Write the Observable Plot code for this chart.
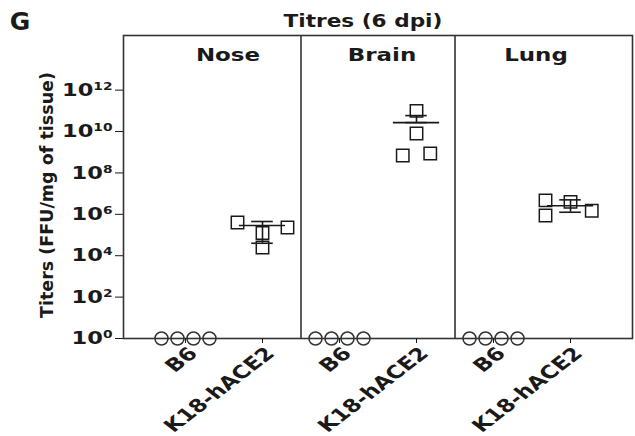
<!DOCTYPE html>
<html>
<head>
<meta charset="utf-8">
<script src="https://cdn.jsdelivr.net/npm/d3@7"></script>
<script src="https://cdn.jsdelivr.net/npm/@observablehq/plot@0.6"></script>
<style>
  html, body { margin: 0; padding: 0; background: #fff; }
  #chart { width: 635px; height: 436px; }
</style>
</head>
<body>
<div id="chart"></div>
<script>
// ---- data ----
const tissues = ["Nose", "Brain", "Lung"];
const groups = ["B6", "K18-hACE2"];
const yTicks = [1e0, 1e2, 1e4, 1e6, 1e8, 1e10, 1e12];

// B6 mice: no virus detected (plotted at 10^0)
const b6Nose = [1, 1, 1, 1];
const b6Brain = [1, 1, 1, 1];
const b6Lung = [1, 1, 1, 1];

// K18-hACE2 mice, FFU/mg of tissue
const k18Nose = [4.0e5, 1.26e5, 2.3e5, 2.5e4];
const k18Brain = [1.0e11, 8.0e9, 7.0e8, 8.7e8];
const k18Lung = [4.7e6, 4.0e6, 1.5e6, 8.7e5];

// mean and error bar ends (K18-hACE2)
const meanTiter = [2.9e5, 2.7e10, 2.6e6];
const errLow = [4.0e4, 2.7e10, 1.26e6];
const errHigh = [4.5e5, 5.9e10, 5.0e6];

// scatter columns (layout helper: side-by-side placement of points)
const b6Cols = [-1.5, -0.5, 0.5, 1.5];
const k18NoseCols = [-1, 0, 1, 0];
const k18BrainCols = [0, 0, -0.55, 0.55];
const k18LungCols = [-1, 0, 0.85, -1];

// ---- build tables: one x slot per tissue × group ----
const slot = (ti, gi) => ti * groups.length + gi;
const b6Rows = [];
[b6Nose, b6Brain, b6Lung].forEach((arr, ti) =>
  arr.forEach((v, i) => b6Rows.push({tissue: tissues[ti], x: slot(ti, 0), titer: v, col: b6Cols[i]})));
const k18Rows = [];
[[k18Nose, k18NoseCols], [k18Brain, k18BrainCols], [k18Lung, k18LungCols]].forEach(([arr, cols], ti) =>
  arr.forEach((v, i) => k18Rows.push({tissue: tissues[ti], x: slot(ti, 1), titer: v, col: cols[i]})));
const summary = tissues.map((t, i) => ({tissue: t, x: slot(i, 1), mean: meanTiter[i], lo: errLow[i], hi: errHigh[i]}));
const slots = d3.range(tissues.length * groups.length);
const dividers = d3.range(1, tissues.length).map(i => slot(i, 0) - 0.5);
const panelCenters = tissues.map((t, i) => ({tissue: t, x: slot(i, 0) + 0.5}));

const ink = "#1a1a1a";
const b6Marks = [...new Set(b6Rows.map(d => d.col))].map(c =>
  Plot.dot(b6Rows.filter(d => d.col === c), {
    x: "x", y: "titer", r: 6.5, dx: c * 16,
    stroke: "#333", strokeWidth: 1.5, fill: "none"
  }));
const k18Marks = [...new Set(k18Rows.map(d => d.col))].map(c =>
  Plot.dot(k18Rows.filter(d => d.col === c), {
    x: "x", y: "titer", r: 7, symbol: "square", dx: c * 25,
    stroke: ink, strokeWidth: 1.5, fill: "white"
  }));

const pad = 0.805;
const chart = Plot.plot({
  width: 635,
  height: 436,
  marginLeft: 123,
  marginRight: 3,
  marginTop: 35,
  marginBottom: 98,
  style: {fontFamily: "DejaVu Sans, Liberation Sans, sans-serif", fontSize: "16px", fontWeight: "bold", color: ink, background: "white"},
  x: {type: "linear", domain: [-pad, slots.length - 1 + pad], axis: null},
  y: {type: "log", domain: [1, Math.pow(10, 14.64)], axis: null},
  marks: [
    Plot.frame({stroke: "#333", strokeWidth: 1.6}),
    Plot.ruleX(dividers, {stroke: "#333", strokeWidth: 1.6}),
    Plot.axisY({
      ticks: yTicks, tickSize: 8, tickPadding: 3,
      tickFormat: d => "10^" + Math.round(Math.log10(d)),
      label: null, fontSize: 18
    }),
    Plot.axisX({ticks: slots, tickFormat: i => groups[i % groups.length], tickRotate: -45, tickSize: 5, tickPadding: 3, label: null, fontSize: 18}),
    Plot.text(panelCenters, {x: "x", text: "tissue", frameAnchor: "top", dy: 13, dx: 4, fontSize: 17, fontWeight: "bold", className: "panel-label"}),
    ...b6Marks,
    ...k18Marks,
    Plot.ruleX(summary, {x: "x", y1: "lo", y2: "hi", stroke: ink, strokeWidth: 1.6}),
    Plot.ruleY(summary, {y: "mean", x1: d => d.x - 0.3, x2: d => d.x + 0.3, stroke: ink, strokeWidth: 1.6}),
    Plot.ruleY(summary, {y: "lo", x1: d => d.x - 0.14, x2: d => d.x + 0.14, stroke: ink, strokeWidth: 1.6}),
    Plot.ruleY(summary, {y: "hi", x1: d => d.x - 0.14, x2: d => d.x + 0.14, stroke: ink, strokeWidth: 1.6})
  ]
});

const NS = "http://www.w3.org/2000/svg";
// superscript exponents on y tick labels
chart.querySelectorAll('g[aria-label="y-axis tick label"] text').forEach(t => {
  const s = t.textContent;
  if (!s.startsWith("10^")) return;
  const exp = s.slice(3);
  t.textContent = "";
  const base = document.createElementNS(NS, "tspan");
  base.textContent = "10";
  const sup = document.createElementNS(NS, "tspan");
  sup.textContent = exp;
  sup.setAttribute("dy", "-0.55em");
  sup.setAttribute("font-size", "11px");
  t.appendChild(base);
  t.appendChild(sup);
  t.classList.add("stretch-y");
});

// panel letter, title, y label
const svg = d3.select(chart);
svg.append("text").attr("x", 20).attr("y", 30).attr("font-size", 25).attr("font-weight", "bold")
  .attr("fill", ink).text("G");
svg.append("text").attr("class", "title").attr("x", 363).attr("y", 27).attr("text-anchor", "middle").attr("font-size", 18)
  .attr("font-weight", "bold").attr("fill", ink).text("Titres (6 dpi)");
svg.append("text").attr("transform", "translate(53,195) rotate(-90)").attr("text-anchor", "middle")
  .attr("font-size", 17.5).attr("font-weight", "bold").attr("fill", ink).text("Titers (FFU/mg of tissue)");

// rotated x labels: wider glyphs as in the reference
chart.querySelectorAll('g[aria-label="x-axis tick label"] text').forEach(t => {
  const tr = t.getAttribute("transform") || "";
  t.setAttribute("transform", tr.replace("rotate(", "translate(8,4) scale(1.3,1) rotate("));
});

document.getElementById("chart").appendChild(chart);

// horizontally widen some labels (reference glyphs are broad)
function stretch(sel, f) {
  chart.querySelectorAll(sel).forEach(t => {
    const len = t.getComputedTextLength();
    t.setAttribute("textLength", (len * f).toFixed(1));
    t.setAttribute("lengthAdjust", "spacingAndGlyphs");
  });
}
stretch("text.stretch-y", 1.25);
stretch("text.title", 1.2);
stretch(".panel-label text", 1.35);
</script>
</body>
</html>
